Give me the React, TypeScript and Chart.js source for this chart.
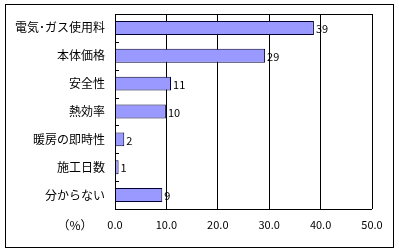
import React, { useEffect, useRef } from "react";
import { Chart, registerables } from "chart.js";

Chart.register(...registerables);

const categories = ["電気･ガス使用料", "本体価格", "安全性", "熱効率", "暖房の即時性", "施工日数", "分からない"];
const values = [38.7, 29.2, 10.9, 9.9, 1.8, 0.7, 9.2];
const valueLabels = ["39", "29", "11", "10", "2", "1", "9"];
const xTicks = [0, 10, 20, 30, 40, 50];
const axisUnit = "（%）";

const FONT = "'Noto Sans CJK JP', 'DejaVu Sans', sans-serif";

const decorPlugin = {
  id: "decor",
  beforeDraw(chart: any) {
    const ctx = chart.ctx;
    ctx.save();
    ctx.fillStyle = "#ffffff";
    ctx.fillRect(0, 0, chart.width, chart.height);
    ctx.strokeStyle = "#000000";
    ctx.lineWidth = 1;
    ctx.strokeRect(5.5, 4.5, 388, 243);
    ctx.restore();
  },
  afterDatasetsDraw(chart: any) {
    const ctx = chart.ctx;
    const area = chart.chartArea;
    const y = chart.scales.y;
    ctx.save();
    ctx.strokeStyle = "#000000";
    ctx.lineWidth = 1;
    ctx.beginPath();
    ctx.moveTo(Math.round(area.left) + 0.5, area.top);
    ctx.lineTo(Math.round(area.left) + 0.5, area.bottom);
    ctx.moveTo(area.left, Math.round(area.top) + 0.5);
    ctx.lineTo(area.right, Math.round(area.top) + 0.5);
    ctx.moveTo(area.left, Math.round(area.bottom) + 0.5);
    ctx.lineTo(area.right, Math.round(area.bottom) + 0.5);
    for (let i = 1; i < categories.length; i++) {
      const py = Math.round((y.getPixelForValue(i - 1) + y.getPixelForValue(i)) / 2) + 0.5;
      ctx.moveTo(area.left, py);
      ctx.lineTo(area.left + 4, py);
    }
    ctx.stroke();
    // data labels
    ctx.fillStyle = "#000000";
    ctx.font = "11px " + FONT;
    ctx.textAlign = "left";
    ctx.textBaseline = "middle";
    const meta = chart.getDatasetMeta(0);
    meta.data.forEach((bar: any, i: number) => {
      ctx.fillText(valueLabels[i], bar.x + 2, bar.y + 1);
    });
    // unit label
    ctx.font = "12px " + FONT;
    ctx.textAlign = "center";
    ctx.fillText(axisUnit, 75, area.bottom + 16);
    ctx.restore();
  },
};

export default function App() {
  const ref = useRef<HTMLCanvasElement>(null);
  useEffect(() => {
    const chart = new Chart(ref.current!, {
      type: "bar",
      data: {
        labels: categories,
        datasets: [
          {
            data: values,
            backgroundColor: "#9999ff",
            borderColor: "#000033",
            borderWidth: 1,
            barPercentage: 0.5,
            categoryPercentage: 1,
          },
        ],
      },
      plugins: [decorPlugin],
      options: {
        indexAxis: "y",
        animation: false,
        responsive: false,
        maintainAspectRatio: false,
        layout: { padding: { left: 0, right: 27, top: 14, bottom: 0 } },
        plugins: { legend: { display: false }, tooltip: { enabled: false } },
        scales: {
          x: {
            min: 0,
            max: 50,
            afterBuildTicks(scale: any) {
              scale.ticks = xTicks.map((v) => ({ value: v }));
            },
            afterFit(scale: any) {
              scale.height = 42;
            },
            grid: { color: "#000000", drawTicks: false, lineWidth: 1 },
            border: { display: false },
            ticks: {
              color: "#000000",
              font: { family: FONT, size: 11 },
              padding: 9,
              maxRotation: 0,
              callback: (v: any) => Number(v).toFixed(1),
            },
          },
          y: {
            afterFit(scale: any) {
              scale.width = 115;
            },
            grid: { display: false },
            border: { display: false },
            ticks: {
              color: "#000000",
              font: { family: FONT, size: 12 },
              padding: 2,
            },
          },
        },
      },
    } as any);
    return () => chart.destroy();
  }, []);
  return (
    <div style={{ position: "fixed", left: 0, top: 0, width: 399, height: 251 }}>
      <canvas ref={ref} width={399} height={251} style={{ width: 399, height: 251 }} />
    </div>
  );
}
